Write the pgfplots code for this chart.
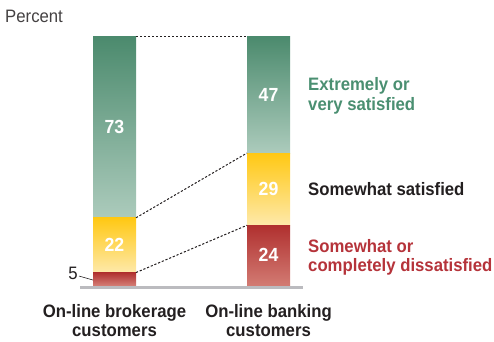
\documentclass[border=0pt]{standalone}
\usepackage{fontspec}
\setmainfont[FakeStretch=0.93]{Liberation Sans}
\usepackage{pgfplots}
\pgfplotsset{compat=1.18}
\definecolor{gtop}{HTML}{4B8A6D}
\definecolor{gbot}{HTML}{ACCBBC}
\definecolor{ytop}{HTML}{FFC813}
\definecolor{ybot}{HTML}{FEE9AA}
\definecolor{rtop}{HTML}{B0302F}
\definecolor{rbot}{HTML}{D27A72}
\definecolor{gtext}{HTML}{4A8F71}
\definecolor{rtext}{HTML}{B5333A}
\definecolor{dark}{HTML}{231F20}
\definecolor{basegray}{HTML}{BBBBBF}
\pgfplotsset{base/.style={width=494pt,height=341pt,scale only axis,
  xmin=-0.74351, xmax=2.46429, ymin=-22.49, ymax=114.46,
  hide axis, clip=false, at={(0,0)}, anchor=south west}}
\begin{document}
\begin{tikzpicture}
\useasboundingbox (0,0) rectangle (494pt,341pt);
% bar 1: brokerage
\begin{axis}[base, ybar stacked, bar width=43pt]
\addplot[draw=none, top color=rtop, bottom color=rbot] coordinates {(0,5)};
\addplot[draw=none, top color=ytop, bottom color=ybot] coordinates {(0,22)};
\addplot[draw=none, top color=gtop, bottom color=gbot] coordinates {(0,73)};
\end{axis}
% bar 2: banking
\begin{axis}[base, ybar stacked, bar width=43pt]
\addplot[draw=none, top color=rtop, bottom color=rbot] coordinates {(1,24)};
\addplot[draw=none, top color=ytop, bottom color=ybot] coordinates {(1,29)};
\addplot[draw=none, top color=gtop, bottom color=gbot] coordinates {(1,47)};
\end{axis}
\begin{axis}[base]
\addplot[basegray, line width=3pt] coordinates {(-0.224,-1.0) (1.224,-1.0)};
\addplot[dark, line width=1pt, dash pattern=on 2.2pt off 1.8pt] coordinates {(0.1396,100) (0.8604,100)};
\addplot[dark, line width=1pt, dash pattern=on 2.2pt off 1.8pt] coordinates {(0.1396,27) (0.8604,53)};
\addplot[dark, line width=1pt, dash pattern=on 2.2pt off 1.8pt] coordinates {(0.1396,5) (0.8604,24)};
\addplot[dark, line width=0.6pt] coordinates {(-0.2305,3.6) (-0.1396,2.0)};
% value labels
\begin{scope}[every node/.style={font=\bfseries\fontsize{19}{21}\selectfont, text=white}]
\node at (axis cs:0,63.5) {73};
\node at (axis cs:0,16) {22};
\node at (axis cs:1,76.5) {47};
\node at (axis cs:1,38.5) {29};
\node at (axis cs:1,12) {24};
\end{scope}
\node[anchor=east, font=\fontsize{18}{20}\selectfont, text=dark, inner sep=0pt] at (axis cs:-0.237,4.6) {5};
\node[anchor=base west, font=\fontsize{18}{20}\selectfont, text=dark!85, inner sep=0pt] at (axis cs:-0.711,105.3) {Percent};
% categories
\begin{scope}[every node/.style={font=\bfseries\fontsize{18}{20}\selectfont, text=dark, anchor=base, inner sep=0pt}]
\node at (axis cs:0,-12.85) {On-line brokerage};
\node at (axis cs:0,-20.88) {customers};
\node at (axis cs:1,-12.85) {On-line banking};
\node at (axis cs:1,-20.88) {customers};
\end{scope}
% legend text
\begin{scope}[every node/.style={font=\bfseries\fontsize{18}{20}\selectfont, anchor=base west, inner sep=0pt}]
\node[text=gtext] at (axis cs:1.2565,78.3) {Extremely or};
\node[text=gtext] at (axis cs:1.2565,70.28) {very satisfied};
\node[text=dark] at (axis cs:1.2565,36.14) {Somewhat satisfied};
\node[text=rtext] at (axis cs:1.2565,13.25) {Somewhat or};
\node[text=rtext] at (axis cs:1.2565,5.62) {completely dissatisfied};
\end{scope}
\end{axis}
\end{tikzpicture}
\end{document}
